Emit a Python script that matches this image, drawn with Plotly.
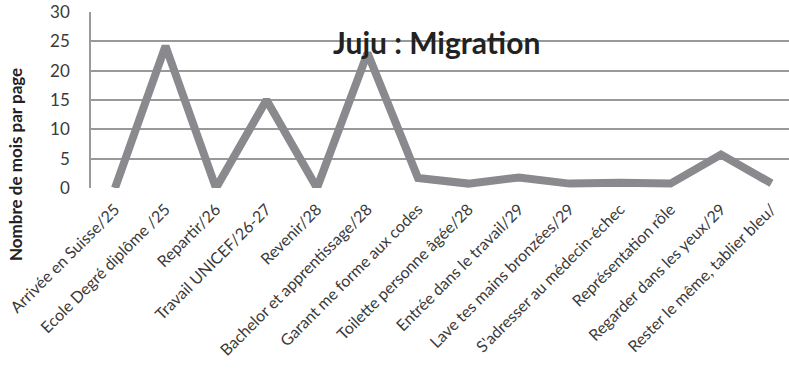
import plotly.graph_objects as go

categories = [
    "Arrivée en Suisse/25",
    "Ecole Degré diplôme /25",
    "Repartir/26",
    "Travail UNICEF/26-27",
    "Revenir/28",
    "Bachelor et apprentissage/28",
    "Garant me forme aux codes",
    "Toilette personne âgée/28",
    "Entrée dans le travail/29",
    "Lave tes mains bronzées/29",
    "S'adresser au médecin-échec",
    "Représentation rôle",
    "Regarder dans les yeux/29",
    "Rester le même, tablier bleu/",
]
values = [0, 24.2, 0, 15, 0, 23, 1.7, 0.75, 1.8, 0.75, 0.9, 0.75, 5.7, 0.8]
y_ticks = [0, 5, 10, 15, 20, 25, 30]

title_text = "Juju : Migration"
y_title = "Nombre de mois par page"

FONT = "Lato, 'Noto Sans', sans-serif"

fig = go.Figure()
fig.add_trace(go.Scatter(
    x=list(range(len(categories))),
    y=values,
    mode="lines",
    line=dict(color="#8a8a8e", width=8),
    hoverinfo="skip",
    showlegend=False,
))

W, H = 789, 376
L, T, B, R = 91, 12, 188, 0
pw = W - L - R
ph = H - T - B
spacing = 50.5
x0 = -(115 - L) / spacing
x1 = x0 + pw / spacing

fig.update_layout(
    width=W, height=H,
    margin=dict(l=L, r=R, t=T, b=B, pad=0),
    paper_bgcolor="white",
    plot_bgcolor="white",
    font=dict(family=FONT, color="#333333"),
    xaxis=dict(
        range=[x0, x1],
        tickmode="array",
        tickvals=list(range(len(categories))),
        ticktext=categories,
        tickangle=-45,
        tickfont=dict(size=16, color="#3a3a3a"),
        showgrid=False,
        zeroline=False,
        showline=False,
        ticks="",
        ticklabelstandoff=8,
    ),
    yaxis=dict(
        range=[0, 30],
        tickmode="array",
        tickvals=y_ticks,
        tickfont=dict(size=17, color="#3a3a3a"),
        showgrid=True,
        gridcolor="#999999",
        gridwidth=1.5,
        zeroline=False,
        showline=True,
        linecolor="#999999",
        linewidth=1.5,
        ticks="",
        ticklabelstandoff=16,
    ),
    annotations=[
        dict(
            text="<b>" + title_text + "</b>",
            xref="paper", yref="paper",
            x=(436 - L) / pw, y=(H - B - 42) / ph,
            xanchor="center", yanchor="middle",
            showarrow=False,
            font=dict(size=30, color="#222222", family=FONT),
        ),
        dict(
            text="<b>" + y_title + "</b>",
            xref="paper", yref="paper",
            x=(15 - L) / pw, y=(H - B - 165) / ph,
            xanchor="center", yanchor="middle",
            textangle=-90,
            showarrow=False,
            font=dict(size=17, color="#222222", family=FONT),
        ),
    ],
)

fig.write_html("out.html")
